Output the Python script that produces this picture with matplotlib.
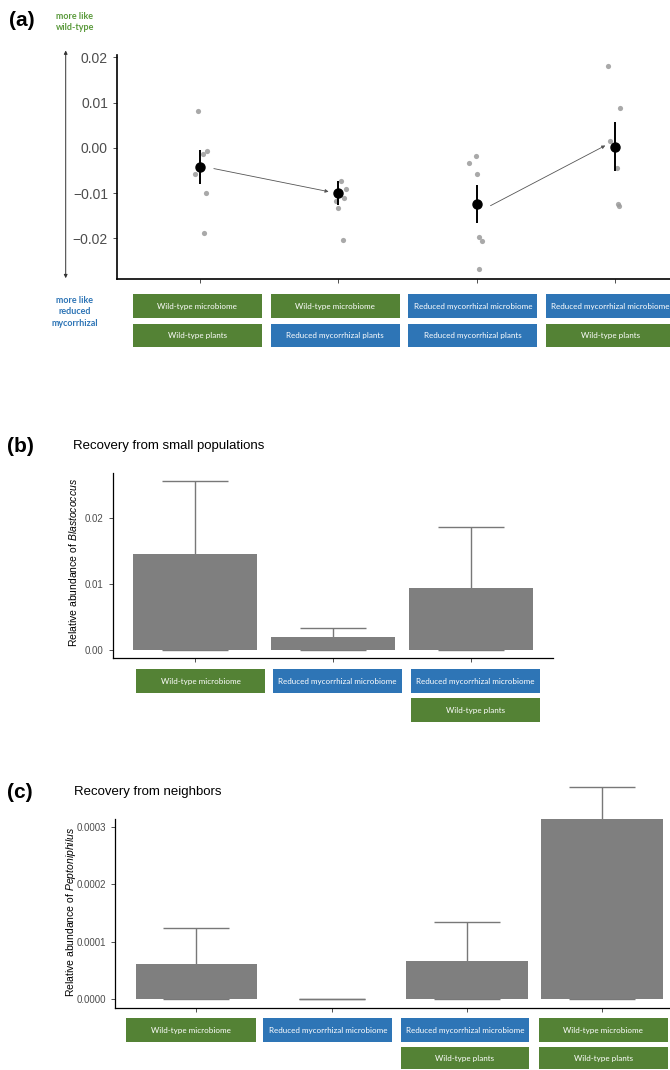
import matplotlib
matplotlib.use("Agg")
import matplotlib.pyplot as plt
from matplotlib.patches import Rectangle, FancyArrowPatch

plt.rcParams["font.family"] = ["Liberation Sans", "DejaVu Sans"]
plt.rcParams["mathtext.fontset"] = "custom"
plt.rcParams["mathtext.rm"] = "Liberation Sans"
plt.rcParams["mathtext.it"] = "Liberation Sans:italic"

# ---- panel (a): similarity score per microbiome / plant combination ----
A_MICROBIOME = ["Wild-type microbiome", "Wild-type microbiome",
                "Reduced mycorrhizal microbiome", "Reduced mycorrhizal microbiome"]
A_PLANTS = ["Wild-type plants", "Reduced mycorrhizal plants",
            "Reduced mycorrhizal plants", "Wild-type plants"]
A_MEANS = [-0.0042, -0.0100, -0.0124, 0.0002]
A_SE = [0.0038, 0.0027, 0.0042, 0.0054]
A_POINTS = [
    [0.0082, -0.0058, -0.0013, -0.0007, -0.0099, -0.0188],
    [-0.0073, -0.0091, -0.0112, -0.0118, -0.0132, -0.0204],
    [-0.0033, -0.0019, -0.0058, -0.0198, -0.0206, -0.0267],
    [0.0181, 0.0087, 0.0014, -0.0044, -0.0124, -0.0129],
]
A_JITTER = [
    [-0.015, -0.036, 0.022, 0.050, 0.043, 0.029],
    [0.020, 0.053, 0.041, -0.020, 0.000, 0.034],
    [-0.053, -0.007, 0.002, 0.014, 0.041, 0.014],
    [-0.053, 0.034, -0.034, 0.012, 0.020, 0.029],
]
A_YTICKS = [-0.02, -0.01, 0.0, 0.01, 0.02]
A_YTICKLABELS = ["\u22120.02", "\u22120.01", "0.00", "0.01", "0.02"]

# ---- panel (b): Blastococcus ----
B_MICROBIOME = ["Wild-type microbiome", "Reduced mycorrhizal microbiome",
                "Reduced mycorrhizal microbiome"]
B_PLANTS = [None, None, "Wild-type plants"]
B_MEANS = [0.01457, 0.00189, 0.00934]
B_SE = [0.01106, 0.00146, 0.00933]
B_YTICKS = [0.0, 0.01, 0.02]
B_YTICKLABELS = ["0.00", "0.01", "0.02"]

# ---- panel (c): Peptoniphilus ----
C_MICROBIOME = ["Wild-type microbiome", "Reduced mycorrhizal microbiome",
                "Reduced mycorrhizal microbiome", "Wild-type microbiome"]
C_PLANTS = [None, None, "Wild-type plants", "Wild-type plants"]
C_MEANS = [0.0000614, 0.0, 0.0000666, 0.0003141]
C_SE = [0.0000621, 0.0, 0.0000673, 0.0000551]
C_YTICKS = [0.0, 0.0001, 0.0002, 0.0003]
C_YTICKLABELS = ["0.0000", "0.0001", "0.0002", "0.0003"]

W, H = 670, 1070
GREEN = "#548235"
BLUE = "#2e75b6"
TICK_GREY = "#4d4d4d"
BAR_GREY = "#7f7f7f"
BOX_FONT = ["Lato", "DejaVu Sans"]

fig = plt.figure(figsize=(W / 100, H / 100), dpi=100)


def px_axes(left, top, right, bottom):
    return fig.add_axes([left / W, 1 - bottom / H, (right - left) / W, (bottom - top) / H])


def fx(x):
    return x / W


def fy(y):
    return 1 - y / H


def label_box(x0, y0, x1, y1, text):
    color = GREEN if text.startswith("Wild") else BLUE
    fig.add_artist(Rectangle((fx(x0), fy(y1)), fx(x1) - fx(x0), fy(y0) - fy(y1),
                             transform=fig.transFigure, facecolor=color,
                             edgecolor="none"))
    fig.text(fx((x0 + x1) / 2), fy((y0 + y1) / 2), text, color="white",
             fontsize=5.8, family=BOX_FONT, ha="center", va="center")


def draw_boxes(microbes, plants, xspans, row1, row2):
    for (x0, x1), m, p in zip(xspans, microbes, plants):
        label_box(x0, row1[0], x1, row1[1], m)
        if p:
            label_box(x0, row2[0], x1, row2[1], p)


def style_axes(ax, lw=1.0):
    for side in ("top", "right"):
        ax.spines[side].set_visible(False)
    for side in ("left", "bottom"):
        ax.spines[side].set_linewidth(lw)
        ax.spines[side].set_color("black")
    ax.tick_params(axis="both", colors="#333333", length=3, width=0.6,
                   labelcolor=TICK_GREY)
    ax.set_facecolor("none")


# ---------------- panel (a) ----------------
ax_a = px_axes(117, 55, 698, 279)
xs_a = list(range(1, len(A_MEANS) + 1))
for x, pts, jit in zip(xs_a, A_POINTS, A_JITTER):
    ax_a.scatter([x + j for j in jit], pts, s=14, color="#9a9a9a", alpha=0.85,
                 linewidths=0, zorder=2)
ax_a.errorbar(xs_a, A_MEANS, yerr=A_SE, fmt="o", color="black", markersize=6.5,
              elinewidth=1.4, capsize=0, zorder=3)
arrow_kw = dict(arrowstyle="-|>", color="#555555", lw=0.6, mutation_scale=5,
                shrinkA=0, shrinkB=0)
for i, j in [(0, 1), (2, 3)]:
    ax_a.annotate("", xy=(xs_a[j] - 0.07, A_MEANS[j] + 0.0003),
                  xytext=(xs_a[i] + 0.1, A_MEANS[i] - 0.0004),
                  arrowprops=arrow_kw, zorder=1)
ax_a.set_xlim(0.4, 4.6)
ax_a.set_ylim(-0.029, 0.0205)
ax_a.set_xticks(xs_a)
ax_a.set_xticklabels([])
ax_a.set_yticks(A_YTICKS)
ax_a.set_yticklabels(A_YTICKLABELS)
style_axes(ax_a, lw=1.2)
ax_a.tick_params(axis="y", labelsize=10)

fig.text(fx(9), fy(21), "(a)", fontsize=15, fontweight="bold", ha="left", va="center")
fig.text(fx(56), fy(22), "more like\nwild-type", color="#5b9a3c", fontsize=6.5,
         fontweight="bold", family=BOX_FONT, ha="left", va="center", linespacing=1.4)
fig.text(fx(75), fy(312), "more like\nreduced\nmycorrhizal", color=BLUE, fontsize=6.5,
         fontweight="bold", family=BOX_FONT, ha="center", va="center", linespacing=1.35)
fig.add_artist(FancyArrowPatch(
    (fx(65.7), fy(281)), (fx(65.7), fy(47.7)), transform=fig.transFigure,
    arrowstyle="<|-|>", mutation_scale=5, color="#333333", lw=0.7))

draw_boxes(A_MICROBIOME, A_PLANTS,
           [(132.7, 262), (270.7, 400), (408.3, 537.3), (545.7, 675)],
           (294.3, 318), (323.7, 347))


# ---------------- bar panels ----------------
def bar_panel(rect, means, se, ylim, xlim, yticks, yticklabels):
    ax = px_axes(*rect)
    xs = list(range(1, len(means) + 1))
    lower = [m for m in means]
    ax.errorbar(xs, means, yerr=[lower, se], fmt="none", ecolor="#787878",
                elinewidth=1.0, capsize=24, capthick=1.0, zorder=1, clip_on=False)
    ax.bar(xs, means, width=0.9, color=BAR_GREY, zorder=2)
    ax.set_xlim(*xlim)
    ax.set_ylim(*ylim)
    ax.set_xticks(xs)
    ax.set_xticklabels([])
    ax.set_yticks(yticks)
    ax.set_yticklabels(yticklabels)
    style_axes(ax, lw=0.9)
    ax.tick_params(axis="y", labelsize=7)
    return ax


bar_panel((112.7, 473.3, 553.3, 658.3), B_MEANS, B_SE, (-0.0013, 0.02685),
          (0.4, 3.6), B_YTICKS, B_YTICKLABELS)
fig.text(fx(7), fy(446), "(b)", fontsize=15, fontweight="bold", ha="left", va="center")
fig.text(fx(73), fy(446), "Recovery from small populations", fontsize=9.5,
         ha="left", va="center")
fig.text(fx(73), fy(562), r"Relative abundance of $\it{Blastococcus}$",
         fontsize=7.5, rotation=90, ha="center", va="center")
draw_boxes(B_MICROBIOME, B_PLANTS,
           [(136, 265.3), (272.7, 401.7), (410.7, 539.7)],
           (669.3, 693.3), (698.3, 722))

bar_panel((115.3, 819.3, 683, 1007.7), C_MEANS, C_SE, (-0.0000146, 0.000313),
          (0.4, 4.6), C_YTICKS, C_YTICKLABELS)
fig.text(fx(7), fy(793), "(c)", fontsize=15, fontweight="bold", ha="left", va="center")
fig.text(fx(74), fy(792), "Recovery from neighbors", fontsize=9.5,
         ha="left", va="center")
fig.text(fx(71), fy(912), r"Relative abundance of $\it{Peptoniphilus}$",
         fontsize=7.5, rotation=90, ha="center", va="center")
draw_boxes(C_MICROBIOME, C_PLANTS,
           [(126.3, 255.7), (263.3, 392.3), (400.7, 529.3), (539, 667.7)],
           (1018.3, 1042), (1047.3, 1069.3))

fig.savefig("out.png", dpi=100, facecolor="white")
